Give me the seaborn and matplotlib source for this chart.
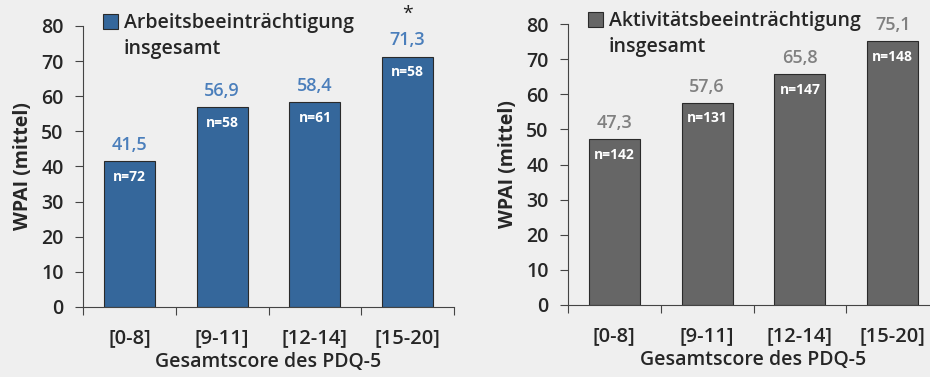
import numpy as np
import matplotlib
matplotlib.use('Agg')
import matplotlib.pyplot as plt
import matplotlib.patches as mpatches
import pandas as pd
import seaborn as sns

sns.set_style('white')
plt.rcParams['font.family'] = ['Open Sans', 'DejaVu Sans']

# data
categories = ['[0-8]', '[9-11]', '[12-14]', '[15-20]']
arbeit_vals = [41.5, 56.9, 58.4, 71.3]
arbeit_n = [72, 58, 61, 58]
aktiv_vals = [47.3, 57.6, 65.8, 75.1]
aktiv_n = [142, 131, 147, 148]

panels = [
    (arbeit_vals, arbeit_n, '#35679b', '#4a7ebb', ['Arbeitsbeeinträchtigung', 'insgesamt'],
     [83 / 930, 1 - 307 / 377, 371 / 930, 281 / 377]),
    (aktiv_vals, aktiv_n, '#666666', '#808080', ['Aktivitätsbeeinträchtigung', 'insgesamt'],
     [568 / 930, 1 - 305 / 377, 371 / 930, 281 / 377]),
]

fs = 14
fig = plt.figure(figsize=(9.3, 3.77), dpi=100)
fig.patch.set_facecolor('#efefef')

for vals, ns, col, lab_col, leg_text, pos in panels:
    ax = fig.add_axes(pos)
    ax.set_facecolor('none')
    df = pd.DataFrame({'cat': categories, 'val': vals})
    sns.barplot(data=df, x='cat', y='val', color=col, width=0.55,
                edgecolor='#2a2a2a', linewidth=0.8, saturation=1, ax=ax)
    ax.set_ylim(0, 80)
    ax.set_xlim(-0.5, 3.5)
    ax.set_yticks(range(0, 81, 10))
    ax.set_xticks(range(4))
    ax.set_xticklabels(categories, fontsize=14.5, fontweight=600)
    for t in ax.get_yticklabels():
        t.set_fontweight(600)
    ax.tick_params(axis='y', labelsize=fs, length=6, width=0.8, color='#444444', left=True, pad=8)
    ax.tick_params(axis='x', which='major', length=0, pad=15)
    ax.set_xticks([-0.5, 0.5, 1.5, 2.5, 3.5], minor=True)
    ax.tick_params(axis='x', which='minor', length=6, width=0.8, color='#444444', bottom=True)
    for s in ['top', 'right']:
        ax.spines[s].set_visible(False)
    for s in ['left', 'bottom']:
        ax.spines[s].set_color('#444444')
        ax.spines[s].set_linewidth(0.8)
    ax.set_ylabel('WPAI (mittel)', fontsize=fs, fontweight='bold', labelpad=6)
    ax.set_xlabel('Gesamtscore des PDQ-5', fontsize=fs, fontweight=600, labelpad=3)

    for i, (v, n) in enumerate(zip(vals, ns)):
        ax.text(i, v + 4.6, f'{v:.1f}'.replace('.', ','), ha='center', va='center',
                fontsize=13, fontweight=600, color=lab_col)
        ax.text(i, v - 4.5, f'n={n}', ha='center', va='center', fontsize=10,
                fontweight='bold', color='white')
    ax.text(3, vals[-1] + 12.3, '*', ha='center', va='center', fontsize=14,
            color='#222222', clip_on=False)

    handles = [mpatches.Patch(facecolor=col, edgecolor='#2a2a2a', linewidth=0.8),
               mpatches.Patch(facecolor='none', edgecolor='none')]
    leg = ax.legend(handles, leg_text, loc='upper left', bbox_to_anchor=(0.055, 1.045),
                    frameon=False, prop={'size': fs, 'weight': 600}, handlelength=0.75,
                    handleheight=0.75, handletextpad=0.3, labelspacing=0.3,
                    borderaxespad=0, borderpad=0)

fig.savefig('out.png', dpi=100, facecolor=fig.get_facecolor())
